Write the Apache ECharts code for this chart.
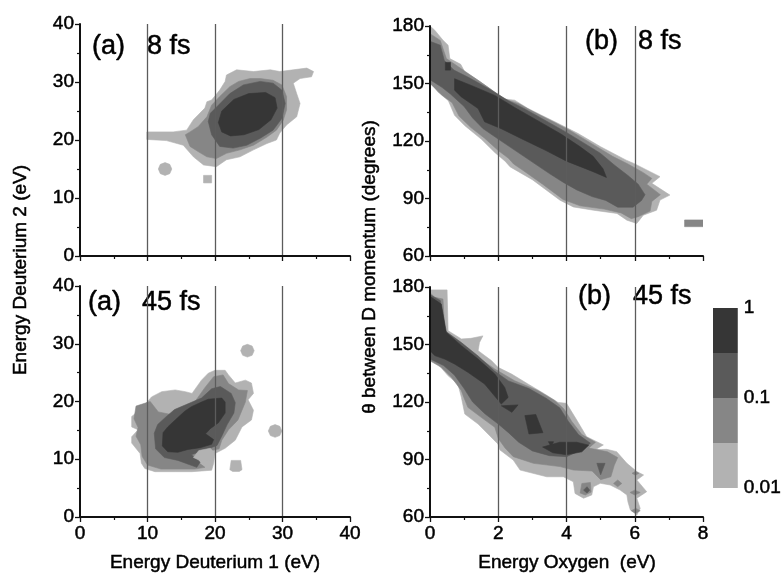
<!DOCTYPE html>
<html>
<head>
<meta charset="UTF-8">
<script src="https://cdn.jsdelivr.net/npm/echarts@6/dist/echarts.min.js"></script>
<style>
  body { margin: 0; background: #ffffff; }
  #chart { width: 784px; height: 576px; }
</style>
</head>
<body>
<div id="chart"></div>
<script>
// colour bar: four bands, two per decade, from 0.01 up to 1
var colorbarTicks = ['0.01', '0.1', '1'];
var colorbarBands = [1, 1, 1, 1];

// (a) 8 fs : Energy Deuterium 1 (x) vs Energy Deuterium 2 (y), eV
var a8Level1 = [
  [[9.9,21.4],[9.9,20.1],[12.8,19.9],[15.3,19.1],[16.8,17.1],[18.3,15.7],[20.2,15.4],[21.7,16.6],[23.7,17.1],[25.7,18.3],[27.7,19.4],[29.1,20.0],[29.6,21.2],[30.6,22.6],[32.1,24.0],[32.6,26.3],[32.1,28.0],[31.6,29.8],[32.6,30.6],[34.3,30.9],[34.6,31.8],[33.6,32.4],[31.6,32.1],[29.6,31.8],[28.2,32.1],[25.7,31.8],[23.2,32.1],[21.7,31.2],[21.5,30.1],[20.7,28.6],[19.5,26.9],[18.8,26.6],[18.5,25.5],[16.8,23.5],[15.8,21.7],[13.8,21.4]],
  [[11.6,15.0],[11.9,15.8],[12.6,16.1],[13.3,15.8],[13.6,15.0],[13.3,14.2],[12.6,13.9],[11.9,14.2]],
  [[18.3,12.6],[18.3,13.9],[19.5,13.9],[19.5,12.6]]
];
var a8Level2 = [
  [[15.6,20.9],[16.3,18.9],[17.5,18.0],[18.8,17.1],[20.2,16.8],[21.7,17.7],[23.7,18.3],[25.7,19.1],[27.7,20.5],[29.1,21.7],[30.1,23.4],[30.6,25.2],[30.6,27.5],[29.9,29.5],[28.6,30.3],[26.7,30.6],[25.2,30.6],[23.5,30.1],[22.2,29.2],[20.7,27.5],[19.5,26.0],[18.8,24.0],[17.5,22.3],[16.3,21.4]]
];
var a8Level3 = [
  [[19.0,23.2],[19.5,20.9],[20.7,18.9],[22.7,18.6],[24.7,19.1],[26.7,20.3],[28.6,21.7],[29.9,23.7],[30.4,26.3],[29.9,28.6],[28.6,29.8],[26.7,30.1],[24.2,29.5],[22.2,28.0],[20.5,26.0],[19.3,24.6]]
];
var a8Level4 = [
  [[20.5,23.0],[21.0,21.4],[22.3,20.7],[24.3,20.9],[26.5,21.8],[28.3,23.5],[29.2,25.5],[28.9,27.3],[27.5,28.2],[25.0,28.0],[22.8,27.0],[21.0,25.0]]
];

// (a) 45 fs
var a45Level1 = [
  [[7.66,17.4],[9.14,18.8],[10.6,20.8],[12.1,21.7],[14.1,22.0],[15.6,21.7],[16.6,21.4],[18.0,23.7],[19.0,24.9],[20.0,25.4],[21.5,25.4],[22.0,24.6],[23.0,23.2],[24.5,23.7],[25.4,23.2],[25.7,21.4],[24.9,20.3],[25.7,18.5],[25.4,16.8],[24.0,15.6],[23.0,13.3],[21.5,11.9],[20.0,11.0],[19.8,9.3],[19.5,8.1],[16.6,7.85],[14.1,7.85],[11.1,7.85],[9.6,8.4],[9.1,9.3],[8.9,11.0],[7.66,12.8],[7.66,13.9],[8.6,15.1],[7.66,15.6]],
  [[23.8,28.8],[24.1,29.6],[24.8,29.9],[25.5,29.6],[25.8,28.8],[25.5,28.0],[24.8,27.7],[24.1,28.0]],
  [[27.9,14.9],[28.2,15.7],[28.9,16.0],[29.6,15.7],[29.9,14.9],[29.6,14.1],[28.9,13.8],[28.2,14.1]],
  [[22.2,8.2],[22.4,9.8],[23.8,9.8],[24.0,8.2],[23.6,7.9],[22.6,7.9]]
];
var a45Level2 = [
  [[8.3,19.2],[10.4,20.0],[11.6,18.2],[14.1,17.6],[16.5,19.1],[18.5,22.4],[19.8,24.3],[21.2,24.6],[22.0,23.1],[23.5,22.0],[24.8,21.9],[24.5,19.9],[24.0,18.5],[23.4,16.8],[22.0,15.1],[21.0,13.3],[20.6,11.8],[19.5,11.5],[18.0,11.0],[17.5,9.5],[18.5,8.6],[17.0,8.3],[12.0,8.3],[10.0,9.0],[9.2,10.5],[9.0,12.5],[8.3,14.0],[8.6,15.5],[8.0,17.0]]
];
var a45Level3 = [
  [[11.0,14.5],[11.2,11.8],[12.5,10.3],[14.5,9.8],[17.3,8.6],[17.8,9.5],[16.5,10.8],[18.5,11.6],[20.3,12.4],[21.0,14.0],[21.8,16.0],[22.8,18.0],[23.0,19.8],[22.4,21.4],[20.8,22.6],[19.5,22.2],[18.0,20.6],[16.0,19.6],[14.0,18.6],[12.6,17.2],[11.5,16.0]]
];
var a45Notch = [
  [[16.8,10.3],[17.6,11.5],[19.3,11.9],[20.0,11.0],[19.5,9.7],[17.8,9.8]]
];
var a45Level4 = [
  [[12.3,14.6],[13.0,15.6],[14.1,16.8],[15.5,18.3],[16.5,19.1],[18.0,19.9],[19.0,20.4],[21.0,20.6],[21.5,19.9],[21.5,18.0],[20.5,16.3],[19.3,15.3],[18.6,14.4],[19.8,13.4],[19.5,12.6],[17.8,12.0],[16.0,11.7],[14.5,11.2],[13.0,11.3],[12.2,12.3]]
];

// (b) 8 fs : Energy Oxygen (x, eV) vs angle between D momenta (y, degrees)
var b8Level1 = [
  [[0,180],[0.14,177.8],[0.38,172.6],[0.53,170],[0.58,163],[0.9,160],[1.02,156],[1.41,151.7],[1.75,147.4],[2.09,142.1],[2.48,141.3],[2.87,137],[3.26,133.5],[3.66,130],[4.34,123.9],[5.0,117],[5.75,110],[5.96,108.4],[6.45,104],[6.74,101.4],[6.5,97.9],[7.03,91.8],[6.74,89.2],[6.64,83.9],[6.25,81.3],[6.06,77],[5.77,78.7],[5.48,82.2],[4.79,83.9],[4.2,85.6],[3.81,89.1],[3.0,99.8],[2.35,106.5],[2.2,109.5],[1.9,114],[1.5,121],[1.02,128],[0.72,133.4],[0.54,141],[0.23,145.6],[0,151]]
];
var b8Level2 = [
  [[0,176],[0.3,172.5],[0.48,163],[0.85,158.5],[1.3,153],[1.7,148],[2.2,141.8],[2.6,139.5],[2.95,136],[3.45,131.5],[4.1,125.5],[4.75,118.5],[5.35,112],[5.8,108],[6.25,103.5],[6.5,100.5],[6.35,97.5],[6.75,92],[6.5,88.5],[6.45,83.5],[6.1,80.5],[5.9,79.5],[5.6,82.5],[5.1,84.5],[4.4,86.2],[3.9,89.5],[3.3,97.5],[2.7,105],[2.45,108],[2.3,111],[2.0,115],[1.6,121.5],[1.2,127],[0.85,133],[0.65,140],[0.35,144],[0,150]],
  [[7.46,75.3],[7.46,78.8],[8.0,78.8],[8.0,75.3]]
];
var b8Level3 = [
  [[0,172],[0.3,170],[0.42,162],[0.7,157],[1.15,153],[1.75,147],[2.3,141],[2.75,137],[3.3,131.5],[3.95,125],[4.55,118.5],[5.0,113.5],[5.4,107.5],[5.8,102],[6.1,97.5],[6.3,92],[6.2,89],[5.95,85.5],[5.5,85.5],[5.15,89],[4.75,91],[4.3,94.5],[3.9,98.5],[3.5,103],[3.0,109],[2.5,115],[2.0,121],[1.55,126.5],[1.25,132],[1.0,138],[0.6,144.5],[0.35,148],[0,152]]
];
var b8Level4 = [
  [[0.72,152.5],[1.21,149],[1.9,143.8],[2.48,137.5],[3.17,130.5],[3.85,123.5],[4.39,117.1],[4.78,112],[5.07,105.5],[5.17,101],[4.78,104],[4.0,109.5],[3.4,115],[2.68,121.2],[2.09,126.4],[1.6,130],[1.41,136.9],[0.92,143],[0.72,146.5]],
  [[0.45,157],[0.45,161],[0.6,161],[0.6,157]]
];

// (b) 45 fs
var b45Level1 = [
  [[0,178.5],[0.5,178.5],[0.53,157.2],[0.92,152.9],[1.2,153.2],[1.55,154.5],[1.45,151],[1.41,146.8],[1.8,141.6],[1.99,138.1],[2.39,134.6],[2.87,129.4],[3.36,124.2],[3.75,119.8],[4.0,119.3],[4.3,110.6],[4.59,101.9],[5.08,97.6],[4.85,95.2],[5.18,95.3],[5.47,94.1],[5.77,88],[6.06,83.7],[6.26,81.9],[6.06,79.3],[6.35,73.2],[6.06,69.8],[6.16,64.5],[6.06,61],[5.87,63.7],[5.8,68],[5.77,71.5],[5.57,74.1],[5.28,76.7],[4.99,77.6],[4.79,75.8],[4.74,71.5],[4.5,69.8],[4.25,72.3],[4.2,78.4],[3.91,81],[3.42,81],[2.64,84.5],[2.44,89.7],[2.05,95],[1.99,98.1],[1.7,103.3],[1.41,108.5],[1.02,113.7],[0.92,122.4],[0.82,129.4],[0.53,133.7],[0.23,139.8],[0,144.2]]
];
var b45Level2 = [
  [[0,177],[0.14,174.6],[0.38,173.7],[0.43,157.2],[0.92,150.3],[1.41,143.3],[1.9,137.2],[2.48,131.1],[3.17,125.9],[3.66,120.7],[3.92,116.5],[4.15,110],[4.45,103],[4.85,99],[4.65,96],[5.2,94],[5.5,91],[5.4,87],[5.3,81],[5.0,79.5],[4.75,84],[4.2,84.5],[3.81,86.3],[3.03,88],[2.44,91.5],[2.2,96],[2.0,101],[1.9,106.8],[1.5,112],[1.11,117.2],[1.0,122],[0.92,125.9],[0.63,132.9],[0.33,138.1],[0,141.5]],
  [[4.4,72.5],[4.45,77.5],[4.7,78],[4.72,73],[4.55,71.5]],
  [[5.38,77.5],[5.5,79.3],[5.62,77.5],[5.5,75.8]],
  [[5.86,72.8],[6.0,74],[6.16,72.8],[6.0,71.5]],
  [[5.9,63.3],[6.03,64.5],[6.16,63.3],[6.03,62]],
  [[5.92,82.8],[6.02,83.8],[6.12,82.8],[6.02,81.8]]
];
var b45Level3 = [
  [[0,176],[0.3,173],[0.45,157],[0.92,151],[1.41,144],[1.9,136],[2.3,131],[2.9,127],[3.4,122],[3.8,117],[4.05,110],[4.35,103],[4.7,98.5],[4.5,95.5],[4.0,91.5],[3.5,92],[3.0,94.5],[2.6,99],[2.3,104],[2.0,108.5],[1.6,114],[1.25,120],[1.0,127],[0.72,134],[0.4,139],[0,142.5]],
  [[4.89,88],[5.13,88],[5.0,82]],
  [[4.5,74],[4.6,75.8],[4.68,74],[4.6,72.5]]
];
var b45Level4 = [
  [[0,175],[0.04,174.6],[0.33,171.1],[0.48,156.3],[0.92,149.4],[1.41,142.4],[1.9,134.6],[2.19,127.6],[2.29,122.4],[2.09,118.9],[1.6,129.4],[1.11,135.5],[0.72,139.8],[0.43,142.4],[0.14,144.2],[0,146.8]],
  [[2.09,118],[2.58,118.5],[2.4,114.6]],
  [[2.78,112.9],[3.1,113.5],[3.31,104],[2.9,103.3]],
  [[3.47,99.3],[3.62,99.3],[3.55,96.7]],
  [[3.3,96.5],[3.8,99],[4.3,99],[4.65,97.5],[4.45,94],[4.0,92.5],[3.6,93.5]]
];

var levelColors = ['#b2b2b2', '#868686', '#5a5a5a', '#363636'];
var font = 'Liberation Sans, Arial, sans-serif';

// flatten [level, polygons] pairs in drawing order
function buildShapes(layers) {
  var out = [];
  layers.forEach(function (l) {
    l[1].forEach(function (p) { out.push({ level: l[0], poly: p }); });
  });
  return out;
}

function contourSeries(idx, shapes) {
  return {
    type: 'custom',
    xAxisIndex: idx,
    yAxisIndex: idx,
    silent: true,
    clip: true,
    encode: { x: 0, y: 1 },
    data: shapes.map(function (s, i) { return [s.poly[0][0], s.poly[0][1], i]; }),
    renderItem: function (params, api) {
      var s = shapes[api.value(2)];
      var c = levelColors[s.level - 1];
      return {
        type: 'polygon',
        shape: { points: s.poly.map(function (p) { return api.coord(p); }) },
        style: { fill: c, stroke: c, lineWidth: 0.6 }
      };
    }
  };
}

var tickLabel = { color: '#000', fontSize: 19, fontFamily: font, textBorderColor: '#000', textBorderWidth: 0.5 };

function xAx(idx, max, step, showLabels) {
  return {
    gridIndex: idx, type: 'value', min: 0, max: max, interval: step, z: 3,
    axisLine: { onZero: false, lineStyle: { color: '#111', width: 2 } },
    axisTick: { length: 5, lineStyle: { color: '#111', width: 1.3 } },
    minorTick: { show: true, splitNumber: 2, length: 3, lineStyle: { color: '#111', width: 1.2 } },
    axisLabel: Object.assign({ show: showLabels, margin: 7 }, tickLabel),
    splitLine: { show: true, showMinLine: false, showMaxLine: false, lineStyle: { color: '#5c5c5c', width: 1.3 } }
  };
}

function yAx(idx, min, max, step) {
  return {
    gridIndex: idx, type: 'value', min: min, max: max, interval: step, z: 3,
    axisLine: { show: true, onZero: false, lineStyle: { color: '#111', width: 2 } },
    axisTick: { show: true, length: 5, lineStyle: { color: '#111', width: 1.3 } },
    minorTick: { show: true, splitNumber: 2, length: 3, lineStyle: { color: '#111', width: 1.2 } },
    axisLabel: Object.assign({ margin: 6 }, tickLabel),
    splitLine: { show: false }
  };
}

function label(text, x, y, size, rot) {
  return {
    type: 'text', x: x, y: y, rotation: rot || 0, silent: true,
    style: {
      text: text, fill: '#000', stroke: '#000', lineWidth: 0.5,
      font: size + 'px ' + font, align: rot ? 'center' : 'left', verticalAlign: 'middle'
    }
  };
}

var chart = echarts.init(document.getElementById('chart'));

var bandSeries = colorbarBands.map(function (v, k) {
  return {
    type: 'bar', xAxisIndex: 4, yAxisIndex: 4, stack: 'bar', barWidth: '100%', silent: true,
    data: [v], itemStyle: { color: levelColors[k] }
  };
});

chart.setOption({
  animation: false,
  textStyle: { fontFamily: font },
  grid: [
    { left: 80, top: 24, width: 270, height: 232 },
    { left: 430, top: 26, width: 273, height: 230 },
    { left: 80, top: 286, width: 270, height: 231 },
    { left: 430, top: 287, width: 273, height: 230 },
    { left: 713, top: 308, width: 26, height: 180 }
  ],
  xAxis: [
    xAx(0, 40, 10, false),
    xAx(1, 8, 2, false),
    xAx(2, 40, 10, true),
    xAx(3, 8, 2, true),
    { gridIndex: 4, type: 'category', data: ['c'], show: false }
  ],
  yAxis: [
    yAx(0, 0, 40, 10),
    yAx(1, 60, 180, 30),
    yAx(2, 0, 40, 10),
    yAx(3, 60, 180, 30),
    {
      gridIndex: 4, type: 'value', min: 0, max: 4, interval: 2, position: 'right',
      axisLine: { show: false }, axisTick: { show: false }, splitLine: { show: false },
      axisLabel: Object.assign({
        margin: 6,
        formatter: function (v) { return colorbarTicks[v / 2]; }
      }, tickLabel)
    }
  ],
  series: [
    contourSeries(0, buildShapes([[1, a8Level1], [2, a8Level2], [3, a8Level3], [4, a8Level4]])),
    contourSeries(1, buildShapes([[1, b8Level1], [2, b8Level2], [3, b8Level3], [4, b8Level4]])),
    contourSeries(2, buildShapes([[1, a45Level1], [2, a45Level2], [3, a45Level3], [1, a45Notch], [4, a45Level4]])),
    contourSeries(3, buildShapes([[1, b45Level1], [2, b45Level2], [3, b45Level3], [4, b45Level4]]))
  ].concat(bandSeries),
  graphic: [
    label('(a)', 92, 47, 27), label('8 fs', 147, 47, 27),
    label('(a)', 88, 303, 27), label('45 fs', 142, 303, 27),
    label('(b)', 585, 42, 27), label('8 fs', 638, 42, 27),
    label('(b)', 578, 297, 27), label('45 fs', 633, 297, 27),
    label('Energy Deuterium 2 (eV)', 21, 270, 19, Math.PI / 2),
    label('\u03b8 between D momentum (degrees)', 370, 267, 19, Math.PI / 2),
    label('Energy Deuterium 1 (eV)', 215, 563, 19, 0.00001),
    label('Energy Oxygen  (eV)', 567, 563, 19, 0.00001)
  ]
});
</script>
</body>
</html>
